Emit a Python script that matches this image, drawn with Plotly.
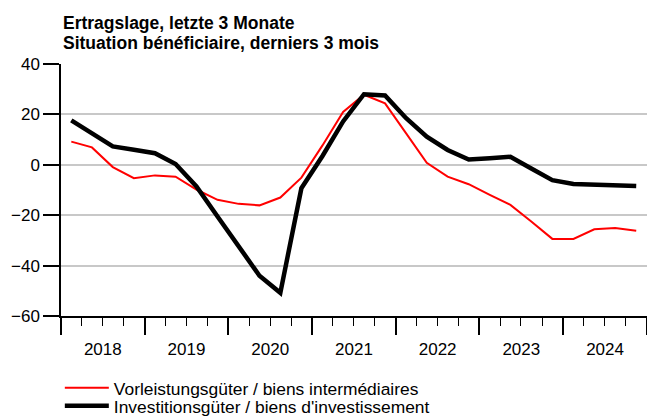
import pandas as pd
import plotly.graph_objects as go

quarters = [f"{y}Q{q}" for y in range(2018, 2025) for q in range(1, 5)]

vorleistung = [9.2, 6.9, -0.9, -5.3, -4.2, -4.7, -9.8, -13.9, -15.5, -16.1,
               -13.0, -5.1, 7.7, 21.0, 27.8, 24.4, 12.5, 0.8, -4.7, -7.7,
               -11.9, -15.9, -22.5, -29.4, -29.4, -25.6, -25.1, -26.2]
investition = [17.6, 12.5, 7.3, 6.0, 4.6, 0.3, -8.6, -20.5, -32.0, -44.0,
               -50.8, -9.3, 3.5, 17.2, 28.0, 27.5, 18.5, 11.2, 5.9, 2.1,
               2.6, 3.2, -1.5, -6.1, -7.6, -8.0, -8.2, -8.4]

name_red = "Vorleistungsgüter / biens intermédiaires"
name_black = "Investitionsgüter / biens d'investissement"
title_lines = ["Ertragslage, letzte 3 Monate", "Situation bénéficiaire, derniers 3 mois"]
y_ticks = [-60, -40, -20, 0, 20, 40]

# mid-quarter dates
dates = [p.start_time + pd.Timedelta(days=45) for p in pd.PeriodIndex(quarters, freq="Q")]

FONT = "Liberation Sans, Arial, sans-serif"
# the page body has an 8px margin, so the figure is drawn at (8, 8)
W, H = 647, 408
PLOT_LEFT, PLOT_RIGHT = 53, 639
PLOT_TOP, PLOT_BOTTOM = 56, 308
PH = PLOT_BOTTOM - PLOT_TOP


def py(px):
    """figure pixel row -> paper y"""
    return (PLOT_BOTTOM - px) / PH


fig = go.Figure()
fig.add_trace(go.Scatter(x=dates, y=vorleistung, mode="lines", name=name_red,
                         line=dict(color="#ff0000", width=2), legend="legend"))
fig.add_trace(go.Scatter(x=dates, y=investition, mode="lines", name=name_black,
                         line=dict(color="#000000", width=4.5), legend="legend2"))

leg_common = dict(x=-0.002, xanchor="left", yanchor="top",
                  bgcolor="rgba(0,0,0,0)", font=dict(family=FONT, size=17.4),
                  itemwidth=44, borderwidth=0)

fig.update_layout(
    width=W, height=H,
    margin=dict(l=PLOT_LEFT, r=W - PLOT_RIGHT, t=PLOT_TOP, b=H - PLOT_BOTTOM,
                autoexpand=False),
    paper_bgcolor="white", plot_bgcolor="white",
    font=dict(family=FONT, size=17, color="black"),
    showlegend=True,
    legend=dict(y=py(362), **leg_common),
    legend2=dict(y=py(380), **leg_common),
    annotations=[
        dict(text="<b>" + title_lines[0] + "</b>", x=0, xref="paper", xanchor="left",
             y=py(15), yref="paper", yanchor="middle", showarrow=False,
             font=dict(family=FONT, size=17.5, color="black")),
        dict(text="<b>" + title_lines[1] + "</b>", x=0, xref="paper", xanchor="left",
             y=py(35), yref="paper", yanchor="middle", showarrow=False,
             font=dict(family=FONT, size=17.5, color="black")),
    ],
)

fig.update_xaxes(
    type="date",
    range=["2018-01-01", "2025-01-01"],
    tick0="2018-01-01", dtick="M12",
    ticklabelmode="period", tickformat="%Y",
    ticks="outside", ticklen=17, tickwidth=1.5, tickcolor="black",
    showline=True, linecolor="black", linewidth=1.5,
    showgrid=False, zeroline=False,
    minor=dict(dtick="M3", tick0="2018-01-01", ticks="outside", ticklen=8,
               tickwidth=1.2, tickcolor="black", showgrid=False),
    tickfont=dict(family=FONT, size=17),
)
fig.update_yaxes(
    range=[-60, 40], tickvals=y_ticks,
    ticks="outside", ticklen=16, tickwidth=1.5, tickcolor="black",
    showline=True, linecolor="black", linewidth=1.5,
    showgrid=True, gridcolor="#c8c8c8", gridwidth=1.5,
    zeroline=False,
    tickfont=dict(family=FONT, size=17),
)

fig.write_html("out.html")
